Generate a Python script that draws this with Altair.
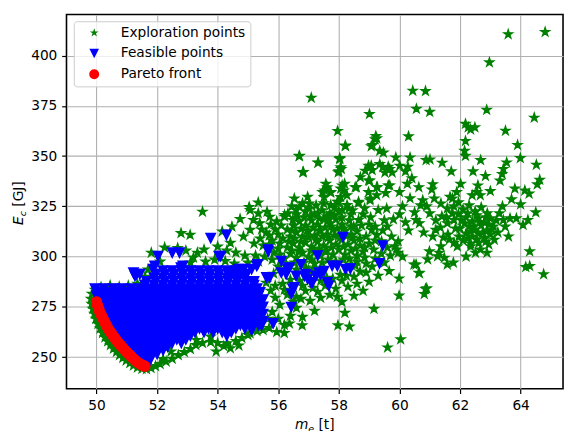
import altair as alt
import pandas as pd

# ---------------- data (m_e [t], E_c [GJ]) ----------------
explore_pts = [
    # rim along Pareto front
    (49.85, 281.5), (49.82, 279.0), (49.84, 276.5), (49.88, 274.0), (49.93, 271.5), (49.98, 269.0),
    (50.05, 266.5), (50.12, 264.2), (50.20, 262.0), (50.28, 259.8), (50.37, 257.8), (50.46, 256.0),
    (50.56, 254.2), (50.66, 252.6), (50.76, 251.0), (50.87, 249.6), (50.98, 248.3), (51.10, 247.0),
    (51.22, 245.8), (51.35, 244.8), (51.50, 244.2), (51.65, 244.0), (51.80, 244.6), (49.95, 283.5),
    (50.15, 284.8), (50.45, 285.6), (50.75, 285.0), (51.05, 285.5), (51.35, 286.5), (51.60, 287.5),
    (50.00, 272.5), (50.15, 268.0), (50.35, 262.5), (50.55, 258.0), (50.78, 254.0), (51.00, 250.5),
    (51.25, 247.5),
    # below the feasible blob
    (51.95, 245.5), (52.10, 246.6), (52.30, 247.8), (52.50, 249.2), (52.46, 252.8), (52.70, 251.0),
    (52.90, 252.5), (53.10, 254.0), (53.28, 256.0), (53.50, 257.0), (53.77, 257.5), (54.00, 257.0),
    (54.20, 255.5), (54.31, 256.9), (54.42, 254.4), (54.60, 258.0), (54.80, 259.5), (55.00, 261.0),
    (55.07, 261.8), (55.30, 263.0), (53.30, 258.5), (53.77, 260.2), (52.20, 249.0), (53.95, 252.8),
    (54.70, 255.8), (55.50, 263.5), (55.70, 264.5),
    # above the blob
    (51.81, 301.9), (51.70, 293.5), (51.60, 290.0), (52.10, 297.5), (52.25, 304.5), (52.68, 304.3),
    (52.95, 303.0), (53.20, 299.5), (53.33, 301.9), (53.55, 303.5), (53.10, 297.0), (53.60, 297.5),
    (53.90, 298.5), (54.25, 297.8), (54.42, 306.8), (54.60, 302.0), (54.85, 310.0), (54.90, 300.5),
    (55.07, 313.3), (55.18, 318.2), (55.39, 316.6), (55.72, 319.8), (52.79, 311.7), (53.09, 310.8),
    (53.50, 322.3), (54.74, 318.7), (55.04, 324.7), (55.34, 326.9), (55.07, 323.1), (55.34, 321.5),
    (55.63, 322.3), (56.21, 320.7), (54.47, 314.9), (54.15, 312.5), (54.00, 305.0), (54.30, 303.0),
    (55.20, 306.5), (55.40, 309.0), (55.60, 312.0), (55.50, 305.5), (55.25, 300.5), (55.00, 297.0),
    (55.80, 308.0), (55.90, 313.5), (55.95, 317.5), (55.75, 316.0), (56.00, 304.0), (54.55, 296.5),
    (55.35, 297.5), (55.55, 300.0), (55.85, 302.0), (55.70, 306.0), (56.05, 306.5), (56.00, 311.0),
    (55.70, 310.5), (56.10, 315.5), (55.45, 313.5),
    # right of the blob, among feasible triangles
    (55.60, 287.0), (55.75, 283.0), (55.90, 279.5), (56.05, 276.0), (55.80, 272.5), (56.00, 269.0),
    (56.20, 266.0), (55.65, 269.0), (55.95, 262.5), (56.20, 262.0), (56.40, 270.5), (56.60, 274.5),
    (56.75, 279.0), (56.90, 283.0), (56.30, 281.0), (56.15, 286.5), (55.85, 291.5), (56.00, 295.0),
    (56.40, 288.5), (56.70, 288.0), (56.60, 293.5), (56.85, 297.0), (57.00, 293.0), (57.20, 296.5),
    (57.15, 284.5), (57.40, 288.0), (57.55, 285.5), (57.80, 289.0), (57.90, 284.0), (58.10, 288.0),
    (58.30, 285.0), (58.50, 290.0), (58.70, 292.5), (58.40, 296.0), (57.70, 281.0), (57.40, 279.5),
    (57.05, 278.0), (56.80, 270.0), (57.20, 273.0), (56.37, 266.7), (56.79, 265.8), (57.97, 265.8),
    (58.35, 265.2), (58.10, 277.5), (58.50, 280.5), (58.20, 272.0), (58.80, 283.0), (59.16, 274.0),
    (59.00, 287.5), (59.66, 292.8), (59.99, 289.1), (59.99, 280.6), (60.04, 258.8), (59.61, 254.8),
    (59.30, 290.5), (58.90, 296.5), (59.20, 299.0), (59.50, 297.0),
    (55.80, 298.5), (56.25, 296.5), (56.55, 297.0), (56.90, 294.5), (57.10, 298.5), (57.45, 297.0),
    (57.65, 298.5), (57.90, 297.5), (58.15, 298.5), (58.35, 299.0), (58.60, 297.5), (58.05, 291.0),
    (58.25, 290.5), (57.60, 289.5), (57.20, 294.0), (56.80, 285.5), (57.30, 282.5), (57.95, 280.0),
    (58.60, 286.5), (58.90, 292.0), (59.10, 295.0), (59.40, 301.5), (59.60, 304.5), (59.15, 303.5),
    (58.85, 299.5), (58.55, 295.5), (56.20, 283.5), (56.60, 280.0), (56.50, 277.5), (55.90, 285.5),
    # middle cloud
    (56.20, 299.0), (56.40, 301.5), (56.60, 299.5), (56.80, 302.0), (57.00, 300.0), (57.20, 302.5),
    (57.40, 300.5), (57.60, 303.0), (57.80, 301.0), (58.00, 303.5), (58.20, 301.0), (58.40, 303.0),
    (58.60, 300.5), (58.80, 302.5), (56.30, 304.5), (56.50, 306.5), (56.70, 304.5), (56.90, 307.0),
    (57.10, 305.0), (57.30, 307.5), (57.50, 305.5), (57.70, 308.0), (57.90, 306.0), (58.10, 308.5),
    (58.30, 306.0), (58.50, 308.0), (58.70, 305.5), (59.00, 306.5), (56.40, 310.0), (56.60, 312.0),
    (56.80, 310.0), (57.00, 312.5), (57.20, 310.5), (57.40, 313.0), (57.60, 311.0), (57.80, 313.5),
    (58.00, 311.0), (58.20, 313.0), (58.40, 311.0), (58.60, 312.5), (56.50, 315.5), (56.70, 317.5),
    (56.90, 315.5), (57.10, 318.0), (57.30, 316.0), (57.50, 318.5), (57.70, 316.5), (57.90, 318.5),
    (58.10, 316.0), (58.35, 318.0), (56.60, 321.0), (56.90, 322.5), (57.20, 321.0), (57.45, 323.0),
    (57.70, 321.5), (58.00, 322.5), (56.30, 313.5), (56.15, 309.0), (56.05, 301.0), (58.90, 310.0),
    (59.20, 308.0), (59.25, 310.8), (59.41, 307.6), (59.74, 310.0), (59.09, 313.3), (58.49, 314.9),
    (58.65, 318.2), (59.00, 316.0), (59.30, 323.1), (59.58, 323.9), (59.03, 328.0), (58.65, 327.2),
    (58.98, 332.1), (59.25, 330.5), (58.00, 327.2), (57.73, 325.6), (57.30, 321.5), (57.67, 319.0),
    (58.11, 323.1), (58.33, 323.9), (56.21, 319.8), (56.32, 321.5), (56.48, 318.2), (56.59, 323.1),
    (56.53, 328.9), (56.97, 329.7), (57.02, 323.9), (56.70, 324.7), (57.46, 332.1), (57.51, 329.6),
    (57.57, 336.2), (57.62, 334.5), (57.73, 332.1), (58.11, 335.4), (58.16, 332.9), (58.06, 329.6),
    (58.27, 330.5), (58.54, 334.5), (58.71, 339.5), (58.98, 337.8), (59.25, 334.5), (59.63, 335.4),
    (58.98, 345.2), (59.10, 343.0), (59.45, 344.5), (59.35, 346.0), (56.81, 341.9), (57.32, 346.8),
    (56.70, 350.1), (58.22, 355.0), (58.03, 348.5), (58.06, 344.4), (57.98, 341.9), (59.20, 358.3),
    (58.21, 355.2), (59.70, 300.5), (59.90, 303.5), (60.10, 300.0), (59.60, 315.0), (59.80, 318.5),
    (60.00, 321.0), (60.20, 317.0), (59.96, 307.6), (59.85, 305.1), (59.96, 301.9), (60.30, 313.0),
    (60.10, 325.0), (60.01, 345.2), (60.20, 342.4), (60.28, 344.7), (60.00, 332.1), (60.26, 336.2),
    (60.41, 339.0), (59.52, 341.8), (59.68, 343.6), (59.76, 341.8), (59.63, 344.7), (59.55, 331.6),
    (59.68, 335.4), (59.27, 334.5), (59.02, 337.8), (58.58, 334.5), (58.87, 342.7), (59.07, 345.2),
    (58.00, 342.4), (58.08, 343.6), (57.53, 332.9), (57.73, 331.8), (58.19, 336.2), (58.06, 333.8),
    (57.02, 326.4), (57.95, 327.2), (58.27, 325.6), (58.65, 326.7), (59.03, 328.9), (60.50, 322.0),
    (60.70, 325.5), (60.35, 329.0),
    (56.35, 307.5), (56.55, 309.0), (56.75, 307.5), (57.00, 309.5), (57.25, 308.5), (57.45, 310.0),
    (57.65, 309.5), (57.85, 310.5), (58.05, 309.5), (58.25, 310.5), (58.45, 309.5), (58.70, 309.0),
    (56.45, 303.0), (56.70, 302.5), (57.10, 303.0), (57.35, 304.0), (57.55, 302.5), (57.75, 304.5),
    (58.15, 305.0), (58.55, 304.0), (58.85, 304.5), (56.45, 313.0), (56.75, 314.0), (56.95, 313.0),
    (57.15, 314.5), (57.35, 313.0), (57.55, 314.5), (57.75, 315.0), (57.95, 314.0), (58.15, 314.0),
    (58.40, 315.0), (58.75, 315.5), (56.55, 319.0), (56.85, 319.5), (57.05, 320.0), (57.35, 319.0),
    (57.60, 320.0), (57.85, 320.5), (58.10, 319.5), (58.40, 321.0), (56.45, 325.0), (56.80, 326.5),
    (57.25, 325.5), (57.50, 326.5), (57.85, 324.5), (58.45, 323.0), (58.80, 321.0), (59.05, 319.5),
    (59.20, 315.0), (59.45, 313.0), (59.50, 318.0), (58.85, 324.0),
    # sparse outliers
    (63.59, 410.6), (64.81, 411.7), (62.97, 396.6), (57.09, 379.0), (60.44, 382.5), (60.86, 382.3),
    (60.56, 373.5), (61.00, 372.0), (62.88, 373.0), (64.45, 369.1), (59.01, 370.9), (57.96, 362.5),
    (62.18, 366.0), (62.27, 364.3), (62.35, 363.2), (62.49, 364.3), (63.50, 362.6), (59.22, 359.9),
    (59.25, 358.8), (59.11, 355.5), (59.07, 354.9), (60.30, 359.8), (62.18, 357.5), (63.90, 355.5),
    (56.69, 350.0), (59.35, 352.6), (59.47, 351.7), (62.15, 352.6), (62.18, 350.1), (58.03, 349.0),
    (59.88, 349.3), (60.35, 349.3), (60.88, 348.0), (61.01, 348.3), (63.99, 349.0), (57.31, 346.7),
    (61.41, 346.7), (62.68, 348.0), (64.52, 345.7), (56.83, 342.1), (61.71, 342.4), (62.43, 342.4),
    (62.84, 340.1), (63.54, 346.8), (63.43, 343.6), (63.39, 341.1), (63.32, 337.8), (64.63, 338.2),
    (64.55, 335.9),
    # right cluster
    (60.64, 334.5), (61.07, 333.4), (62.02, 336.2), (61.89, 332.1), (61.75, 328.9), (61.67, 329.7),
    (62.59, 335.4), (62.56, 332.1), (62.40, 330.5), (63.00, 332.6), (63.81, 333.8), (64.14, 332.9),
    (64.28, 331.3), (60.77, 328.0), (61.15, 328.9), (61.37, 326.4), (61.58, 323.9), (61.95, 327.0),
    (61.80, 325.0), (62.10, 323.5), (62.30, 325.5), (62.50, 322.5), (62.70, 324.5), (62.90, 321.5),
    (62.67, 330.5), (62.20, 319.5), (62.40, 317.5), (62.60, 319.0), (62.80, 317.0), (63.00, 319.0),
    (62.30, 315.0), (62.50, 313.5), (62.70, 315.5), (62.90, 313.0), (63.10, 315.0), (62.45, 314.9),
    (62.20, 311.5), (62.40, 310.0), (62.60, 311.5), (62.80, 309.5), (63.00, 311.0), (62.10, 308.0),
    (62.35, 306.5), (62.62, 306.8), (62.67, 303.5), (62.51, 301.9), (62.89, 301.9), (62.35, 305.1),
    (61.96, 310.0), (61.80, 306.8), (61.91, 305.1), (63.13, 308.4), (63.20, 318.0), (63.43, 318.2),
    (63.65, 319.0), (63.86, 319.0), (64.24, 318.2), (64.08, 315.8), (63.49, 314.9), (63.30, 321.5),
    (60.66, 316.6), (60.55, 318.2), (61.20, 313.3), (61.58, 316.6), (61.80, 318.2), (61.40, 320.0),
    (61.00, 321.5), (61.60, 311.0), (61.37, 305.1), (61.31, 301.9), (61.26, 300.2), (61.48, 299.4),
    (60.99, 302.6), (60.93, 298.6), (61.58, 296.1), (61.78, 297.0), (64.30, 302.6), (64.17, 294.8),
    (64.30, 295.3), (64.76, 291.2), (60.55, 296.1), (60.66, 291.7), (60.90, 284.2), (60.86, 283.9),
    (60.82, 281.4), (60.64, 292.0), (60.48, 296.1), (61.10, 310.0), (60.80, 312.0), (63.40, 325.0),
    (63.70, 328.5), (64.00, 326.0), (63.25, 312.0), (62.00, 314.0), (62.95, 306.0), (63.60, 310.0),
    (64.50, 322.0), (62.20, 300.0), (61.20, 318.0), (60.90, 325.0), (61.10, 336.0),
    (62.25, 321.5), (62.55, 320.5), (62.85, 319.5), (62.65, 317.0), (62.95, 316.0), (62.35, 312.5),
    (62.75, 312.0), (62.55, 308.5), (62.25, 309.0), (62.85, 307.5), (62.15, 316.5), (63.05, 313.5),
    (61.95, 321.0), (62.05, 318.0), (61.75, 321.5), (61.55, 319.5), (61.35, 314.5), (61.85, 314.0),
    (61.65, 308.5), (61.45, 309.5),
]

# dense block of feasible points, read row by row (E_c of the row, m_e of each point)
blob_row_E = [293.0, 291.2, 289.4, 287.6, 285.8, 284.0, 282.2, 280.4, 278.6, 276.8,
              275.0, 273.2, 271.4, 269.6, 267.8, 266.0, 264.2, 262.4, 260.6, 258.8,
              257.0, 255.2, 253.4, 251.6, 249.8, 248.0, 246.5]
blob_row_m = [
    [52.2, 52.5, 52.8, 53.1, 53.4, 53.7, 54.0, 54.3, 54.6],
    [51.95, 52.25, 52.55, 52.85, 53.15, 53.45, 53.75, 54.05, 54.35, 54.65, 54.95],
    [51.9, 52.2, 52.5, 52.8, 53.1, 53.4, 53.7, 54.0, 54.3, 54.6, 54.9],
    [51.65, 51.95, 52.25, 52.55, 52.85, 53.15, 53.45, 53.75, 54.05, 54.35, 54.65, 54.95, 55.2],
    [51.6, 51.9, 52.2, 52.5, 52.8, 53.1, 53.4, 53.7, 54.0, 54.3, 54.6, 54.9, 55.2],
    [49.95, 50.25, 50.55, 50.85, 51.15, 51.45, 51.75, 52.05, 52.35, 52.65, 52.95, 53.25, 53.55, 53.85, 54.15, 54.45, 54.75, 55.05, 55.3],
    [50.1, 50.4, 50.7, 51.0, 51.3, 51.6, 51.9, 52.2, 52.5, 52.8, 53.1, 53.4, 53.7, 54.0, 54.3, 54.6, 54.9, 55.2, 55.4],
    [50.0, 50.25, 50.55, 50.85, 51.15, 51.45, 51.75, 52.05, 52.35, 52.65, 52.95, 53.25, 53.55, 53.85, 54.15, 54.45, 54.75, 55.05, 55.35],
    [50.1, 50.4, 50.7, 51.0, 51.3, 51.6, 51.9, 52.2, 52.5, 52.8, 53.1, 53.4, 53.7, 54.0, 54.3, 54.6, 54.9, 55.2, 55.5],
    [50.25, 50.55, 50.85, 51.15, 51.45, 51.75, 52.05, 52.35, 52.65, 52.95, 53.25, 53.55, 53.85, 54.15, 54.45, 54.75, 55.05, 55.35],
    [50.2, 50.4, 50.7, 51.0, 51.3, 51.6, 51.9, 52.2, 52.5, 52.8, 53.1, 53.4, 53.7, 54.0, 54.3, 54.6, 54.9, 55.2, 55.5],
    [50.25, 50.55, 50.85, 51.15, 51.45, 51.75, 52.05, 52.35, 52.65, 52.95, 53.25, 53.55, 53.85, 54.15, 54.45, 54.75, 55.05, 55.35],
    [50.35, 50.7, 51.0, 51.3, 51.6, 51.9, 52.2, 52.5, 52.8, 53.1, 53.4, 53.7, 54.0, 54.3, 54.6, 54.9, 55.2, 55.5],
    [50.35, 50.55, 50.85, 51.15, 51.45, 51.75, 52.05, 52.35, 52.65, 52.95, 53.25, 53.55, 53.85, 54.15, 54.45, 54.75, 55.05, 55.35],
    [50.4, 50.7, 51.0, 51.3, 51.6, 51.9, 52.2, 52.5, 52.8, 53.1, 53.4, 53.7, 54.0, 54.3, 54.6, 54.9, 55.2, 55.5],
    [50.5, 50.85, 51.15, 51.45, 51.75, 52.05, 52.35, 52.65, 52.95, 53.25, 53.55, 53.85, 54.15, 54.45, 54.75, 55.05, 55.35],
    [50.5, 50.75, 51.0, 51.3, 51.6, 51.9, 52.2, 52.5, 52.8, 53.1, 53.4, 53.7, 54.0, 54.3, 54.6, 54.9, 55.15],
    [50.62, 50.85, 51.15, 51.45, 51.75, 52.05, 52.35, 52.65, 52.95, 53.25, 53.55, 53.85, 54.15, 54.45],
    [50.7, 51.0, 51.3, 51.6, 51.9, 52.2, 52.5, 52.8, 53.1, 54.3],
    [50.8, 51.15, 51.45, 51.75, 52.05, 52.35, 52.65, 52.95],
    [50.95, 51.3, 51.6, 51.9, 52.2, 52.5, 52.8],
    [51.0, 51.2, 51.45, 51.75, 52.05, 52.35],
    [51.1, 51.3, 51.6, 51.9, 52.2],
    [51.2, 51.45, 51.75, 52.0],
    [51.3, 51.6, 51.8],
    [51.45, 51.75],
    [51.65],
]

feasible_loose = [
    (53.77, 309.2), (54.29, 310.8), (52.03, 300.2), (52.50, 301.9), (52.74, 301.9), (51.27, 290.4),
    (51.43, 291.2), (51.87, 293.7), (54.04, 300.2), (55.67, 302.6), (56.10, 297.7), (52.85, 295.3),
    (55.32, 296.1), (55.83, 266.7), (55.45, 265.8), (55.12, 263.4), (55.23, 277.3), (55.39, 273.2),
    (54.80, 292.0), (54.64, 289.6), (54.42, 292.0), (56.75, 296.1), (56.37, 294.5), (56.26, 291.2),
    (55.61, 289.6), (55.29, 295.3), (55.12, 293.7), (56.53, 284.7), (56.43, 281.4), (56.43, 274.9),
    (55.29, 272.4), (55.12, 269.1), (54.69, 293.7), (54.85, 293.7), (58.14, 309.7), (59.45, 305.4),
    (59.34, 296.6), (57.30, 300.5), (56.10, 292.0), (56.32, 293.7), (56.59, 290.4), (56.92, 291.2),
    (57.13, 287.1), (57.35, 292.0), (57.51, 292.8), (57.62, 287.1), (57.78, 295.3), (57.95, 295.3),
    (58.22, 293.7), (58.38, 294.0), (55.67, 303.5), (56.86, 290.4), (56.97, 288.8), (57.24, 290.4),
    (57.40, 291.2), (57.67, 285.5), (57.08, 287.1), (56.48, 283.9), (55.72, 289.6), (51.32, 291.2),
    (51.22, 292.0), (51.92, 295.3), (52.79, 294.5), (54.10, 300.2),
]

pareto_m = [50.00, 50.03, 50.06, 50.09, 50.12, 50.16, 50.20, 50.24, 50.28, 50.32, 50.36, 50.40,
            50.45, 50.50, 50.55, 50.60, 50.65, 50.70, 50.75, 50.80, 50.85, 50.90, 50.96, 51.02,
            51.08, 51.14, 51.20, 51.26, 51.32, 51.38, 51.44, 51.50, 51.56, 51.60]
pareto_E = [277.5, 276.0, 274.6, 273.3, 272.0, 270.8, 269.6, 268.4, 267.2, 266.0, 264.9, 263.8,
            262.7, 261.6, 260.5, 259.5, 258.5, 257.6, 256.7, 255.8, 254.9, 254.0, 253.1, 252.2,
            251.3, 250.4, 249.5, 248.7, 247.9, 247.2, 246.6, 246.1, 245.7, 245.5]

categories = ["Exploration points", "Feasible points", "Pareto front"]
cat_colors = ["#008000", "#0000ff", "#ff0000"]
x_ticks = [50, 52, 54, 56, 58, 60, 62, 64]
y_ticks = [250, 275, 300, 325, 350, 375, 400]

# ---------------- table ----------------
rows = []
for m, e in explore_pts:
    rows.append((categories[0], m, e))
for e, ms in zip(blob_row_E, blob_row_m):
    for m in ms:
        rows.append((categories[1], m, e))
for m, e in feasible_loose:
    rows.append((categories[1], m, e))
for m, e in zip(pareto_m, pareto_E):
    rows.append((categories[2], m, e))
df = pd.DataFrame(rows, columns=["series", "m", "E"])
df["order"] = range(len(df))

STAR = ("M0,-1L0.2245,-0.309L0.9511,-0.309L0.3633,0.118L0.5878,0.809L0,0.382"
        "L-0.5878,0.809L-0.3633,0.118L-0.9511,-0.309L-0.2245,-0.309Z")
TRI = "M-1,-1L1,-1L0,1Z"

W, H = 503.4, 379.3

points = alt.Chart(df).mark_point(filled=True, opacity=1, strokeWidth=1.3).encode(
    x=alt.X("m:Q", scale=alt.Scale(domain=[49.01, 65.4], nice=False, zero=False),
            axis=alt.Axis(values=x_ticks, title=None, format="d")),
    y=alt.Y("E:Q", scale=alt.Scale(domain=[234.3, 420.4], nice=False, zero=False),
            axis=alt.Axis(values=y_ticks, title=None, format="d")),
    color=alt.Color("series:N", scale=alt.Scale(domain=categories, range=cat_colors),
                    legend=alt.Legend(title=None)),
    stroke=alt.Stroke("series:N", scale=alt.Scale(domain=categories, range=cat_colors), legend=None),
    shape=alt.Shape("series:N", scale=alt.Scale(domain=categories, range=[STAR, TRI, "circle"]),
                    legend=alt.Legend(title=None)),
    size=alt.Size("series:N", scale=alt.Scale(domain=categories, range=[88, 102, 118]), legend=None),
    order=alt.Order("order:Q"),
)


def label(txt, x, y, size=13.9, italic=False, angle=0):
    kw = dict(font="DejaVu Sans", fontSize=size, align="left", baseline="alphabetic",
              color="black", angle=angle)
    if italic:
        kw["fontStyle"] = "italic"
    return alt.Chart(pd.DataFrame({"t": [txt]})).mark_text(**kw).encode(
        text="t:N", x=alt.value(x), y=alt.value(y))


ytitle = [
    label("E", -44, 213.3, italic=True, angle=270),
    label("c", -41.5, 204.5, size=9.7, italic=True, angle=270),
    label("[GJ]", -44, 194.8, angle=270),
]
xtitle = [
    label("m", 231.6, 420.6, italic=True),
    label("e", 245.1, 423.6, size=9.7, italic=True),
    label("[t]", 255.5, 420.6),
]

chart = alt.layer(points, *ytitle, *xtitle).properties(
    width=W, height=H,
    autosize=alt.AutoSizeParams(type="none"),
    padding={"left": 59.3, "top": 3.7, "right": 2, "bottom": 45},
).configure_axis(
    grid=True, gridColor="#b0b0b0", gridWidth=1.1, domain=False,
    tickColor="black", tickSize=4.9, tickWidth=1.2,
    labelFont="DejaVu Sans", labelFontSize=13.9, labelColor="black", labelPadding=4.9,
).configure_view(
    stroke="black", strokeWidth=1.6,
).configure_legend(
    orient="none", legendX=7.4, legendY=6.8, padding=4.75, symbolOffset=9,
    labelOffset=20, rowPadding=6.0, fillColor="rgba(255,255,255,0.8)",
    strokeColor="#cccccc", strokeWidth=1, cornerRadius=3,
    labelFont="DejaVu Sans", labelFontSize=13.9, labelColor="black",
    symbolSize=90, symbolStrokeWidth=0, labelLimit=300,
)

chart.save("out.html", embed_options={"renderer": "svg", "actions": False})
